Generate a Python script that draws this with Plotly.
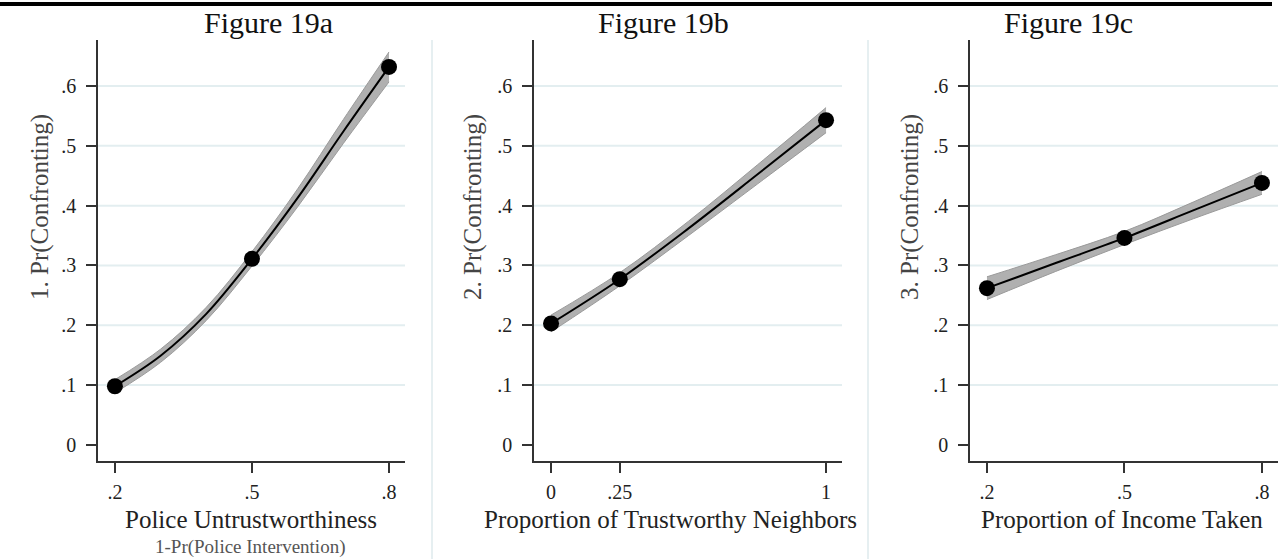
import plotly.graph_objects as go

# ---- data -------------------------------------------------------------
panel_titles = ["Figure 19a", "Figure 19b", "Figure 19c"]
y_titles = ["1. Pr(Confronting)", "2. Pr(Confronting)", "3. Pr(Confronting)"]
x_titles = ["Police Untrustworthiness", "Proportion of Trustworthy Neighbors",
            "Proportion of Income Taken"]
x_subtitle = "1-Pr(Police Intervention)"

# marked points
a_x = [0.2, 0.5, 0.8]
a_y = [0.098, 0.311, 0.632]
b_x = [0, 0.25, 1]
b_y = [0.203, 0.277, 0.543]
c_x = [0.2, 0.5, 0.8]
c_y = [0.262, 0.346, 0.438]

# predicted curves with confidence half-widths
a_line_x = [0.2, 0.3, 0.4, 0.5, 0.6, 0.7, 0.8]
a_line_y = [0.098, 0.149, 0.219, 0.311, 0.413, 0.524, 0.632]
a_half = [0.011, 0.011, 0.011, 0.012, 0.015, 0.020, 0.025]

b_line_x = [0, 0.25, 0.5, 0.75, 1]
b_line_y = [0.203, 0.277, 0.362, 0.452, 0.543]
b_half = [0.014, 0.011, 0.012, 0.016, 0.021]

c_line_x = [0.2, 0.35, 0.5, 0.65, 0.8]
c_line_y = [0.262, 0.304, 0.346, 0.392, 0.438]
c_half = [0.019, 0.014, 0.011, 0.014, 0.019]

y_ticks = [0, 0.1, 0.2, 0.3, 0.4, 0.5, 0.6]
y_ticktext = ["0", ".1", ".2", ".3", ".4", ".5", ".6"]
grid_vals = [0.1, 0.2, 0.3, 0.4, 0.5, 0.6]
a_ticks, a_ticktext = [0.2, 0.5, 0.8], [".2", ".5", ".8"]
b_ticks, b_ticktext = [0, 0.25, 1], ["0", ".25", "1"]
c_ticks, c_ticktext = [0.2, 0.5, 0.8], [".2", ".5", ".8"]

# ---- layout geometry (pixels) ----------------------------------------
W, H = 1280, 559
FONT = "Liberation Serif"
INK = "#222222"
GRID = "#e3eef0"


def px(x):
    return x / W


def py(y):
    return (H - y) / H


panels = [
    dict(lx=a_line_x, ly=a_line_y, hw=a_half, mx=a_x, my=a_y,
         ticks=a_ticks, ticktext=a_ticktext, xr=[0.163, 0.835],
         dom=[98, 405], title_x=268, ytitle_x=40, xtitle_x=251),
    dict(lx=b_line_x, ly=b_line_y, hw=b_half, mx=b_x, my=b_y,
         ticks=b_ticks, ticktext=b_ticktext, xr=[-0.062, 1.058],
         dom=[534, 842], title_x=663, ytitle_x=473, xtitle_x=670),
    dict(lx=c_line_x, ly=c_line_y, hw=c_half, mx=c_x, my=c_y,
         ticks=c_ticks, ticktext=c_ticktext, xr=[0.163, 0.835],
         dom=[970, 1278], title_x=1068, ytitle_x=910, xtitle_x=1122),
]

fig = go.Figure()
shapes = []
annotations = []

for i, p in enumerate(panels, start=1):
    xa = "x" if i == 1 else f"x{i}"
    ya = "y" if i == 1 else f"y{i}"
    upper = [v + h for v, h in zip(p["ly"], p["hw"])]
    lower = [v - h for v, h in zip(p["ly"], p["hw"])]

    # confidence band: lower edge, then upper edge filled down to it
    fig.add_trace(go.Scatter(
        x=p["lx"], y=lower, mode="lines",
        line=dict(color="#9a9a9a", width=1, shape="spline"),
        hoverinfo="skip", showlegend=False, xaxis=xa, yaxis=ya))
    fig.add_trace(go.Scatter(
        x=p["lx"], y=upper, mode="lines", fill="tonexty",
        fillcolor="#b0b0b0",
        line=dict(color="#9a9a9a", width=1, shape="spline"),
        hoverinfo="skip", showlegend=False, xaxis=xa, yaxis=ya))
    # predicted curve
    fig.add_trace(go.Scatter(
        x=p["lx"], y=p["ly"], mode="lines",
        line=dict(color="black", width=2, shape="spline"),
        showlegend=False, xaxis=xa, yaxis=ya))
    # markers
    fig.add_trace(go.Scatter(
        x=p["mx"], y=p["my"], mode="markers",
        marker=dict(color="black", size=16),
        showlegend=False, xaxis=xa, yaxis=ya))

    ax_common = dict(showline=True, linecolor="#333333", linewidth=1.5,
                     ticks="outside", ticklen=10, tickwidth=1.5,
                     tickcolor="#333333", showgrid=False, zeroline=False,
                     tickfont=dict(family=FONT, size=20, color=INK))
    fig.update_layout(**{
        ("xaxis" if i == 1 else f"xaxis{i}"): dict(
            ax_common, domain=[px(p["dom"][0]), px(p["dom"][1])],
            range=p["xr"], tickvals=p["ticks"], ticktext=p["ticktext"],
            anchor=ya, ticklabelstandoff=2),
        ("yaxis" if i == 1 else f"yaxis{i}"): dict(
            ax_common, domain=[py(461), py(40)], range=[-0.027, 0.677],
            tickvals=y_ticks, ticktext=y_ticktext, anchor=xa,
            ticklabelstandoff=6),
    })

    # horizontal grid lines
    for g in grid_vals:
        shapes.append(dict(type="line", xref=f"{xa} domain", yref=ya,
                           x0=0, x1=1, y0=g, y1=g, layer="below",
                           line=dict(color=GRID, width=2)))

    annotations.append(dict(text=panel_titles[i - 1], x=px(p["title_x"]),
                            y=py(22), xref="paper", yref="paper",
                            showarrow=False, xanchor="center",
                            yanchor="middle",
                            font=dict(family=FONT, size=30, color="#111111")))
    annotations.append(dict(text=y_titles[i - 1], x=px(p["ytitle_x"]),
                            y=py(207), xref="paper", yref="paper",
                            showarrow=False, textangle=-90,
                            xanchor="center", yanchor="middle",
                            font=dict(family=FONT, size=25, color="#444444")))
    annotations.append(dict(text=x_titles[i - 1], x=px(p["xtitle_x"]),
                            y=py(519), xref="paper", yref="paper",
                            showarrow=False, xanchor="center",
                            yanchor="middle",
                            font=dict(family=FONT, size=25, color=INK)))

annotations.append(dict(text=x_subtitle, x=px(250), y=py(547),
                        xref="paper", yref="paper", showarrow=False,
                        xanchor="center", yanchor="middle",
                        font=dict(family=FONT, size=19, color="#555555")))

# panel separators
for sx in [432, 868]:
    shapes.append(dict(type="line", xref="paper", yref="paper",
                       x0=px(sx), x1=px(sx), y0=0, y1=py(40),
                       layer="below", line=dict(color="#e6eff1", width=2)))
# top rule
shapes.append(dict(type="line", xref="paper", yref="paper",
                   x0=0, x1=px(1272), y0=py(4), y1=py(4),
                   line=dict(color="black", width=4)))

fig.update_layout(width=W, height=H, margin=dict(l=0, r=0, t=0, b=0),
                  paper_bgcolor="white", plot_bgcolor="white",
                  shapes=shapes, annotations=annotations)

fig.write_html("out.html")
